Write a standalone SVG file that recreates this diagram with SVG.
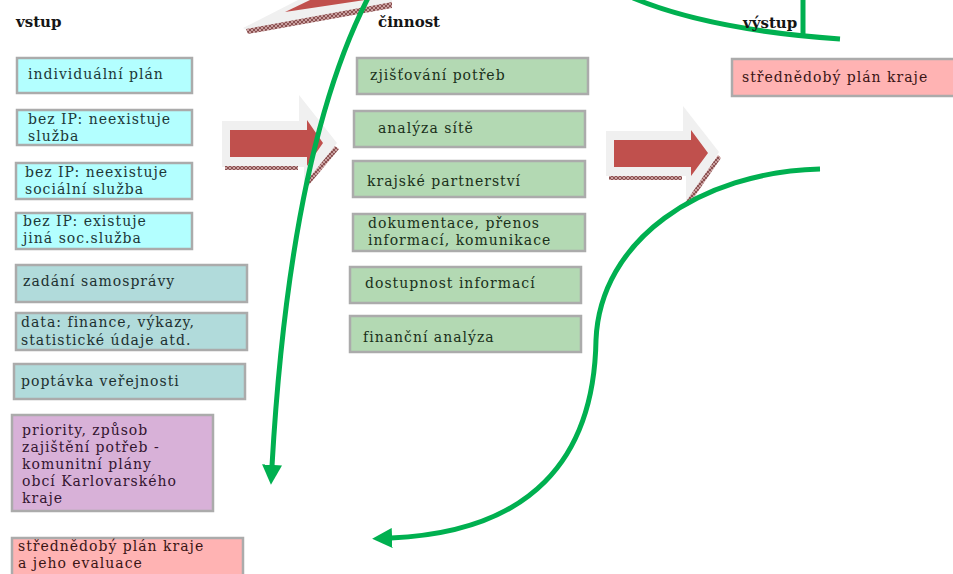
<svg xmlns="http://www.w3.org/2000/svg" width="953" height="574" viewBox="0 0 953 574">
<style>
.box rect{stroke:#ababab;stroke-width:2.5}
.cy rect{fill:#b3ffff}
.tl rect{fill:#b1dbdb}
.gr rect{fill:#b3d9b3}
.pu rect{fill:#d8b1d8}
.pk rect{fill:#ffb3b3}
text{font-family:"DejaVu Serif","Liberation Serif",serif;font-size:14px;letter-spacing:1px}
.cy text{fill:#1d3838}
.tl text{fill:#1d3030}
.gr text{fill:#1a301a}
.pu text{fill:#331530}
.pk text{fill:#3a1515}
.h{font-size:15px;font-weight:bold;fill:#151515;letter-spacing:0}
.g{fill:none;stroke:#00b050;stroke-width:5}
.red{fill:#c0504d}
.bev{fill:#f0f0f0}
.hat{fill:url(#hatch)}
</style>
<defs>
<pattern id="hatch" width="4" height="4" patternUnits="userSpaceOnUse">
<rect width="4" height="4" fill="#caa0a0"/>
<path d="M0,0 L4,4 M4,0 L0,4" stroke="#7a3c3c" stroke-width="0.8"/>
</pattern>
<marker id="ah" markerUnits="userSpaceOnUse" markerWidth="20" markerHeight="20" viewBox="0 0 18 18" refX="1" refY="9" orient="auto">
<path d="M0,0 L18,9 L0,18 Z" fill="#00b050"/>
</marker>
</defs>

<g id="arrows-block">
<g id="arrow-top">
<polygon class="bev" points="243,28 298,0 392,0 392,4 247,30"/>
<polygon class="red" points="285,12 310,0 365,0"/>
<polygon class="hat" points="246,29 392,2 392,8 248,34"/>
</g>
<g id="arrow-1">
<path class="bev" d="M222,121 H299 V95 L337,143 L304,185 V167 H222 Z"/>
<rect class="hat" x="225" y="166" width="73" height="4"/>
<polygon class="hat" points="335,146 339,149 308,186 305,183"/>
<path class="red" d="M230,130 H307 V120 L323,143 L307,166 V157 H230 Z"/>
</g>
<g id="arrow-2">
<path class="bev" d="M606,131 H683 V106 L719,152 L686,203 V176 H606 Z"/>
<rect class="hat" x="609" y="176" width="73" height="4"/>
<polygon class="hat" points="718,155 721,158 688,206 685,203"/>
<path class="red" d="M614,140 H691 V130 L708,153 L691,176 V167 H614 Z"/>
</g>
</g>

<g id="n-ip" class="box cy"><rect x="17" y="58" width="175" height="35"/><text x="28" y="79">individuální plán</text></g>
<g id="n-bez1" class="box cy"><rect x="17" y="110" width="175" height="35"/><text x="28" y="124">bez IP: neexistuje</text><text x="28" y="141">služba</text></g>
<g id="n-bez2" class="box cy"><rect x="16" y="163" width="176" height="36"/><text x="25" y="177">bez IP: neexistuje</text><text x="25" y="194">sociální služba</text></g>
<g id="n-bez3" class="box cy"><rect x="16" y="213" width="176" height="36"/><text x="23" y="226">bez IP: existuje</text><text x="23" y="243">jiná soc.služba</text></g>
<g id="n-zadani" class="box tl"><rect x="16" y="265" width="231" height="37"/><text x="23" y="286">zadání samosprávy</text></g>
<g id="n-data" class="box tl"><rect x="16" y="313" width="231" height="37"/><text x="21" y="327">data: finance, výkazy,</text><text x="21" y="345">statistické údaje atd.</text></g>
<g id="n-poptavka" class="box tl"><rect x="14" y="364" width="231" height="35"/><text x="21" y="386">poptávka veřejnosti</text></g>
<g id="n-priority" class="box pu"><rect x="12" y="415" width="201" height="96"/><text x="22" y="435">priority, způsob</text><text x="22" y="452">zajištění potřeb -</text><text x="22" y="469">komunitní plány</text><text x="22" y="486">obcí Karlovarského</text><text x="22" y="503">kraje</text></g>
<g id="n-plan-eval" class="box pk"><rect x="12" y="538" width="231" height="40"/><text x="18" y="551">střednědobý plán kraje</text><text x="18" y="568">a jeho evaluace</text></g>

<g id="n-zjistovani" class="box gr"><rect x="357" y="58" width="231" height="36"/><text x="370" y="80">zjišťování potřeb</text></g>
<g id="n-analyza" class="box gr"><rect x="354" y="111" width="231" height="36"/><text x="378" y="133">analýza sítě</text></g>
<g id="n-partnerstvi" class="box gr"><rect x="353" y="161" width="232" height="36"/><text x="367" y="186">krajské partnerství</text></g>
<g id="n-dokumentace" class="box gr"><rect x="353" y="214" width="232" height="37"/><text x="368" y="228">dokumentace, přenos</text><text x="368" y="245">informací, komunikace</text></g>
<g id="n-dostupnost" class="box gr"><rect x="350" y="267" width="231" height="36"/><text x="365" y="288">dostupnost informací</text></g>
<g id="n-financni" class="box gr"><rect x="350" y="316" width="231" height="36"/><text x="363" y="342">finanční analýza</text></g>

<g id="n-plan" class="box pk"><rect x="732" y="59" width="225" height="37"/><text x="742" y="82">střednědobý plán kraje</text></g>

<g id="connectors">
<path class="g" d="M368,-2 Q290,150 272,466" marker-end="url(#ah)"/>
<path class="g" d="M633,-2 Q710,30 840,39"/>
<path class="g" d="M803,0 V37" stroke-width="4"/>
<path class="g" d="M820,169 C700,172 600,240 596,340 C594,460 530,532 391,538" marker-end="url(#ah)"/>
</g>

<g id="headers">
<text class="h" x="16" y="27">vstup</text>
<text class="h" x="378" y="27">činnost</text>
<text class="h" x="743" y="28">výstup</text>
</g>
</svg>
